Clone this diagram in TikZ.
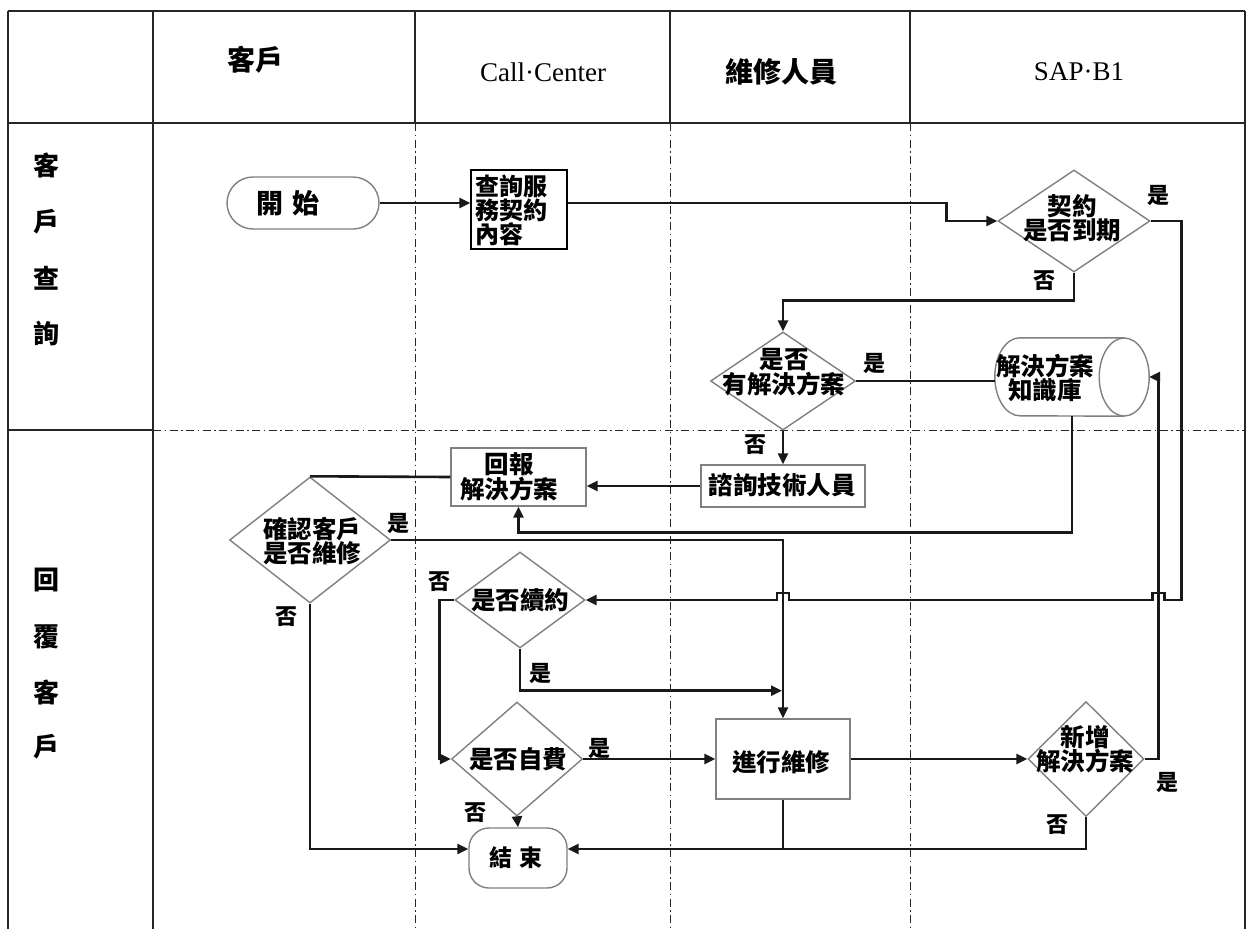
\documentclass[tikz,border=0pt]{standalone}
\usepackage{fontspec}
\setmainfont{Liberation Serif}
\newfontfamily\cjk{Noto Sans CJK TC}
\usetikzlibrary{shapes.geometric,shapes.misc,arrows.meta}
\begin{document}
\begin{tikzpicture}[x=1pt,y=-1pt,
  tbl/.style={line width=1.3pt,black!85},
  dd/.style={line width=1pt,black!85,dash pattern=on 8pt off 3.5pt on 1.5pt off 3.5pt},
  conn/.style={line width=2.6pt,black!90},
  arr/.style={conn,-{Triangle[length=11pt,width=10pt]}},
  shp/.style={draw=black!50,line width=1.4pt,fill=white,inner sep=0pt},
  dec/.style n args={2}{shp,diamond,minimum width=#1,minimum height=#2},
  boxs/.style n args={2}{shp,rectangle,minimum width=#1,minimum height=#2},
  cjt/.style={font=\cjk\bfseries\fontsize{24.5}{23}\selectfont,align=center,inner sep=0pt},
  yn/.style={font=\cjk\bfseries\fontsize{22}{22}\selectfont,inner sep=0pt},
  hd/.style={font=\cjk\bfseries\fontsize{28}{28}\selectfont,inner sep=0pt},
  hl/.style={font=\fontsize{27}{27}\selectfont,inner sep=0pt},
  side/.style={font=\cjk\bfseries\fontsize{26}{26}\selectfont,inner sep=0pt}
]
\useasboundingbox[fill=white] (0,0) rectangle (1253,929);

% ---------- table ----------
\draw[tbl] (8,11) -- (1245,11);
\draw[tbl] (8,123) -- (1245,123);
\draw[tbl] (8,11) -- (8,929);
\draw[tbl] (153,11) -- (153,929);
\draw[tbl] (1245,11) -- (1245,929);
\draw[tbl] (415,11) -- (415,123);
\draw[tbl] (670,11) -- (670,123);
\draw[tbl] (910,11) -- (910,123);
\draw[dd] (415,123) -- (415,929);
\draw[dd] (670,123) -- (670,929);
\draw[dd] (910,123) -- (910,929);
\draw[tbl] (8,430) -- (153,430);
\draw[dd] (153,430) -- (1245,430);

% headers
\node[hd] (h1) at (255,60) {客戶};
\node[hl] (h2) at (543,72) {Call·Center};
\node[hd] (h3) at (781,72) {維修人員};
\node[hl] (h4) at (1079,72) {SAP·B1};

% lane labels
\node[side] (l1) at (46,165) {客};
\node[side] (l2) at (46,222) {戶};
\node[side] (l3) at (46,278) {查};
\node[side] (l4) at (46,333) {詢};
\node[side] (l5) at (46,580) {回};
\node[side] (l6) at (46,637) {覆};
\node[side] (l7) at (46,692) {客};
\node[side] (l8) at (46,747) {戶};

% ---------- shapes ----------
\node[shp,rounded rectangle,minimum width=152pt,minimum height=52pt] (start) at (303,203) {};
\node[cjt,font=\cjk\bfseries\fontsize{27}{27}\selectfont] (startt) at (288,203) {開\hspace{10pt}始};

\node[rectangle,draw=black,line width=1.5pt,fill=white,minimum width=96pt,minimum height=79pt,inner sep=0pt] (query) at (519,209.5) {};
\node[cjt,align=left,anchor=west,font=\cjk\bfseries\fontsize{24}{22.5}\selectfont] (queryt) at (475,210) {查詢服\\務契約\\內容};

\node[dec={152pt}{102pt}] (c1) at (1074,221) {};
\node[cjt] (c1t) at (1072,218) {契約\\是否到期};

\node[dec={145pt}{98pt}] (c2) at (783,381) {};
\node[cjt] (c2t) at (784,372) {是否\\有解決方案};

% knowledge base cylinder (horizontal, open end on the right)
\node[rectangle,minimum width=104pt,minimum height=78pt,inner sep=0pt] (kb) at (1072,377) {};
\draw[shp] (kb.north east) -- (kb.north west)
   arc[start angle=90,end angle=270,x radius=25pt,y radius=39pt] -- (kb.south east);
\draw[shp] (kb.east) ellipse[x radius=25pt,y radius=39pt];
\node[cjt] (kbt) at (1045,378) {解決方案\\知識庫};

\node[boxs={135pt}{58pt}] (report) at (518.5,477) {};
\node[cjt] (reportt) at (509,477) {回報\\解決方案};

\node[boxs={164pt}{42pt}] (consult) at (783,486) {};
\node[cjt] (consultt) at (782,485) {諮詢技術人員};

\node[dec={161pt}{126pt}] (c3) at (310,540) {};
\node[cjt] (c3t) at (312,541) {確認客戶\\是否維修};

\node[dec={130pt}{96pt}] (c4) at (520,600) {};
\node[cjt] (c4t) at (520,600) {是否續約};

\node[dec={131pt}{114pt}] (c5) at (517,759) {};
\node[cjt] (c5t) at (518,759) {是否自費};

\node[boxs={134pt}{80pt}] (repair) at (783,759) {};
\node[cjt] (repairt) at (781,762) {進行維修};

\node[dec={116pt}{115pt}] (c6) at (1086,759) {};
\node[cjt] (c6t) at (1085,749) {新增\\解決方案};

\node[shp,rectangle,rounded corners=20pt,minimum width=98pt,minimum height=60pt] (end) at (518,858) {};
\node[cjt,font=\cjk\bfseries\fontsize{23}{23}\selectfont] (endt) at (516,858) {結\hspace{8pt}束};

% ---------- helper coordinates ----------
\coordinate (q1) at (start.east -| query.east);
\path (c1.west) ++(-51,0) coordinate (j1);
\path (c1.east) ++(31,0) coordinate (yr1);
\path (c1.south) ++(0,28) coordinate (c1d);
\path (kb.south) ++(0,116) coordinate (kbd);
\path (kb.west) ++(-25,0) coordinate (kbw);
\path (kb.east) ++(25,0) coordinate (kbe);
\path (kb.east) ++(34,0) coordinate (xr1);
\path (c4.west) ++(-15,0) coordinate (c4l);
\path (c4.south) ++(0,42) coordinate (c4t2);

% ---------- connectors ----------
\draw[arr] (start.east) -- (start.east -| query.west);
\draw[arr] (q1) -| (j1) -- (c1.west);
\draw[arr] (c1.south) -- (c1d) -| (c2.north);
\draw[conn] (c2.east) -- (c2.east -| kbw);
\draw[arr] (c2.south) -- (consult.north);
\draw[arr] (consult.west) -- (consult.west -| report.east);
\draw[arr] (kb.south) -- (kbd) -| (report.south);
\draw[conn] (report.west) -- (c3.north);
\draw[arr] (c3.east) -| (repair.north);
\draw[arr] (c3.south) |- ([yshift=9pt]end.west);
\draw[arr] (c1.east) -- (yr1) -- (yr1 |- c4.east)
   -- ([xshift=6pt]xr1 |- c4.east) -- ++(0,-7) -- ++(-12,0) -- ++(0,7)
   -- ([xshift=6pt]repair.north |- c4.east) -- ++(0,-7) -- ++(-12,0) -- ++(0,7)
   -- (c4.east);
\draw[arr] (c4.west) -- (c4l) |- (c5.west);
\draw[arr] (c4.south) -- (c4t2) -- ([xshift=-1pt]repair.north |- c4t2);
\draw[arr] (c5.east) -- (repair.west);
\draw[arr] (c5.south) -- (end.north);
\draw[arr] (repair.east) -- (c6.west);
\draw[arr] (c6.east) -| (xr1) -- (kbe);
\draw[arr] (c6.south) |- ([yshift=9pt]end.east);
\draw[conn] (repair.south) -- ([yshift=9pt]repair.south |- end.east);

% ---------- yes / no labels ----------
\node[yn] (y1) at (1158,195) {是};
\node[yn] (n1) at (1044,281) {否};
\node[yn] (y2) at (874,363) {是};
\node[yn] (n2) at (755,445) {否};
\node[yn] (y3) at (398,523) {是};
\node[yn] (n3) at (286,617) {否};
\node[yn] (n4) at (439,582) {否};
\node[yn] (y4) at (540,673) {是};
\node[yn] (y5) at (599,748) {是};
\node[yn] (n5) at (475,813) {否};
\node[yn] (y6) at (1167,782) {是};
\node[yn] (n6) at (1057,825) {否};
\end{tikzpicture}
\end{document}
